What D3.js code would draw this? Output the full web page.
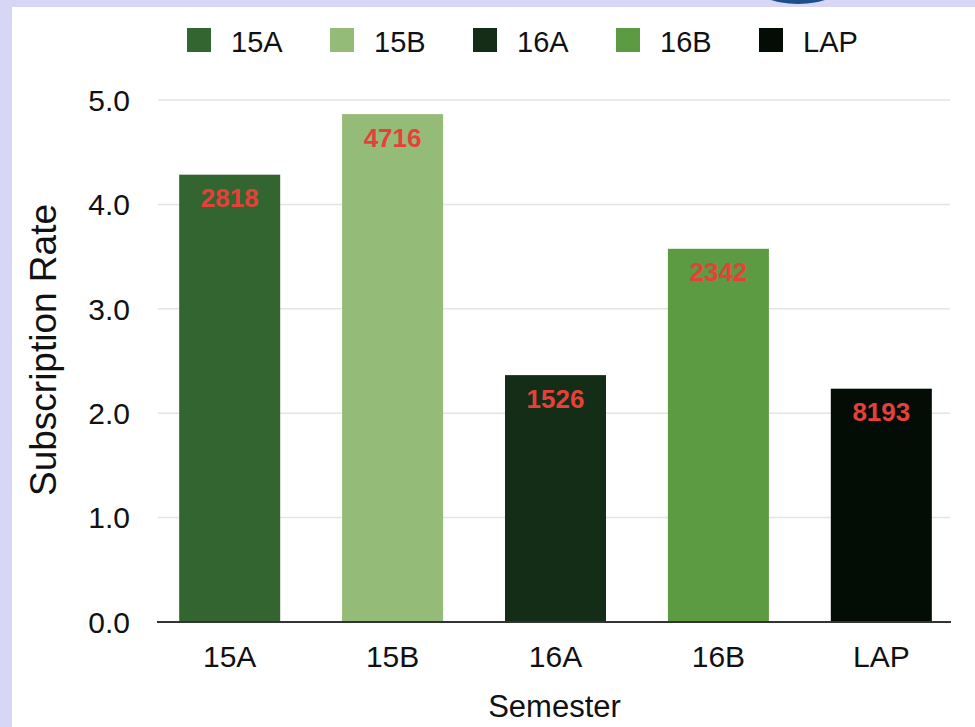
<!DOCTYPE html>
<html>
<head>
<meta charset="utf-8">
<script src="https://cdn.jsdelivr.net/npm/d3@7"></script>
<style>
  html, body { margin: 0; padding: 0; background: #d7d7f5; }
  svg { display: block; }
  text { font-family: "Liberation Sans", Arial, Helvetica, sans-serif; }
</style>
</head>
<body>
<svg id="chart" width="975" height="727"></svg>
<script>
// Subscription rate per semester, with the enrolment count shown on each bar
const semesters = ["15A", "15B", "16A", "16B", "LAP"];
const rates = [4.28, 4.86, 2.36, 3.57, 2.23];
const counts = [2818, 4716, 1526, 2342, 8193];
const barColors = ["#336530", "#94bb77", "#132d17", "#5c9b42", "#030d06"];
const yTicks = [0, 1, 2, 3, 4, 5];

const svg = d3.select("#chart");

// page frame: lavender band with a white card
svg.append("rect").attr("width", 975).attr("height", 727).attr("fill", "#d7d7f5");
svg.append("circle").attr("cx", 798).attr("cy", -89).attr("r", 93).attr("fill", "#1d4e8c");
svg.append("rect").attr("x", 12).attr("y", 7).attr("width", 963).attr("height", 720).attr("fill", "#ffffff");

const x = d3.scaleBand().domain(semesters).range([158, 953]).paddingInner(0.38).paddingOuter(0.13);
const y = d3.scaleLinear().domain([0, 5]).range([621.5, 99.5]);
const color = d3.scaleOrdinal().domain(semesters).range(barColors);

// y axis with gridlines
const yAxis = svg.append("g")
  .attr("transform", "translate(158,0)")
  .call(d3.axisLeft(y).tickValues(yTicks).tickSize(-792).tickPadding(28).tickFormat(d3.format(".1f")));
yAxis.select(".domain").remove();
yAxis.selectAll(".tick line").attr("stroke", "#e4e4e4").attr("stroke-width", 1.5);
yAxis.selectAll(".tick text")
  .attr("fill", "#111")
  .attr("font-size", 30)
  .attr("font-family", "Liberation Sans, Arial, sans-serif")
  .attr("dy", "0.36em");

// bars
const rows = semesters.map((s, i) => ({ s, rate: rates[i], count: counts[i] }));
svg.append("g").selectAll("rect").data(rows).join("rect")
  .attr("x", d => x(d.s))
  .attr("y", d => y(d.rate))
  .attr("width", x.bandwidth())
  .attr("height", d => y(0) - y(d.rate))
  .attr("fill", d => color(d.s));

// count labels inside each bar
svg.append("g").selectAll("text").data(rows).join("text")
  .attr("x", d => x(d.s) + x.bandwidth() / 2)
  .attr("y", d => y(d.rate) + 32.5)
  .attr("text-anchor", "middle")
  .attr("font-size", 26)
  .attr("font-weight", "bold")
  .attr("fill", "#e5413a")
  .text(d => d.count);

// x axis
const xAxis = svg.append("g")
  .attr("transform", "translate(0,622)")
  .call(d3.axisBottom(x).tickSize(0).tickPadding(24));
xAxis.select(".domain").remove();
xAxis.selectAll(".tick text")
  .attr("fill", "#111")
  .attr("font-size", 30)
  .attr("font-family", "Liberation Sans, Arial, sans-serif");
svg.append("line")
  .attr("x1", 157).attr("x2", 951).attr("y1", 622).attr("y2", 622)
  .attr("stroke", "#333").attr("stroke-width", 2);

// axis titles
svg.append("text")
  .attr("x", 554.5).attr("y", 717)
  .attr("text-anchor", "middle")
  .attr("font-size", 31)
  .attr("fill", "#111")
  .text("Semester");
svg.append("text")
  .attr("transform", "translate(56,350) rotate(-90)")
  .attr("text-anchor", "middle")
  .attr("font-size", 37)
  .attr("fill", "#111")
  .text("Subscription Rate");

// legend
const legend = svg.append("g").selectAll("g").data(semesters).join("g")
  .attr("transform", (d, i) => `translate(${187 + i * 143},0)`);
legend.append("rect")
  .attr("y", 28).attr("width", 24).attr("height", 24)
  .attr("fill", d => color(d));
legend.append("text")
  .attr("x", 44).attr("y", 52)
  .attr("font-size", 29)
  .attr("fill", "#111")
  .text(d => d);
</script>
</body>
</html>
